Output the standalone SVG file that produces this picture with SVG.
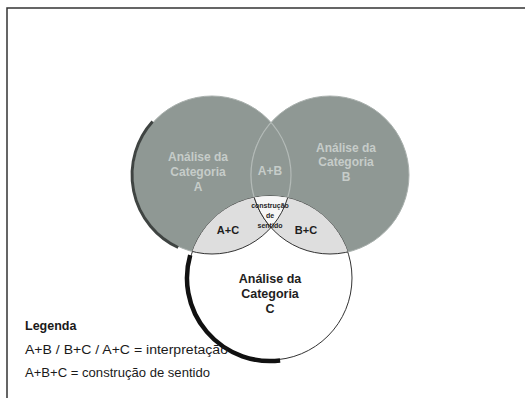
<svg xmlns="http://www.w3.org/2000/svg" width="525" height="398" viewBox="0 0 525 398">
<style>
  .lbl { font-family: "Liberation Sans", Arial, sans-serif; font-weight: bold; text-anchor: middle; }
  .light { fill: #c6ccc9; font-size: 12px; }
  .dark { fill: #1e1e1e; font-size: 12.5px; }
  .leg { font-family: "Liberation Sans", Arial, sans-serif; fill: #1a1a1a; font-size: 12.5px; }
</style>
<defs>
  <clipPath id="clipA"><circle cx="212" cy="175" r="79"/></clipPath>
  <clipPath id="clipB"><circle cx="330" cy="175" r="79"/></clipPath>
  <clipPath id="clipC"><circle cx="270" cy="278" r="82"/></clipPath>
</defs>
<rect x="0" y="0" width="525" height="398" fill="#ffffff"/>
<!-- frame -->
<path d="M7 398 V8 H525" fill="none" stroke="#333" stroke-width="1.5"/>

<g id="circleA">
  <circle cx="212" cy="175" r="79" fill="#8f9894" stroke="#a9b0ad" stroke-width="1"/>
  <path d="M152.6 121.5 A80 80 0 0 0 178.2 247.5" fill="none" stroke="#3f4442" stroke-width="3"/>
  <text class="lbl light" x="198" y="161">Análise da</text>
  <text class="lbl light" x="198" y="176">Categoria</text>
  <text class="lbl light" x="198" y="191">A</text>
</g>
<g id="circleB">
  <circle cx="330" cy="175" r="79" fill="#8f9894" stroke="#a9b0ad" stroke-width="1"/>
  <text class="lbl light" x="346" y="152">Análise da</text>
  <text class="lbl light" x="346" y="166">Categoria</text>
  <text class="lbl light" x="346" y="181">B</text>
</g>
<g id="lensAB">
  <g clip-path="url(#clipA)">
    <circle cx="330" cy="175" r="79" fill="#8f9894" stroke="#b3bab7" stroke-width="1.2"/>
  </g>
  <g clip-path="url(#clipB)">
    <circle cx="212" cy="175" r="79" fill="none" stroke="#b3bab7" stroke-width="1.2"/>
  </g>
  <text class="lbl light" x="270" y="175">A+B</text>
</g>
<g id="circleC">
  <circle cx="270" cy="278" r="82" fill="#ffffff" stroke="#333" stroke-width="1"/>
  <path d="M190.2 255.1 A83 83 0 0 0 280.1 360.4" fill="none" stroke="#111" stroke-width="4.5"/>
  <text class="lbl dark" x="270" y="283">Análise da</text>
  <text class="lbl dark" x="270" y="298">Categoria</text>
  <text class="lbl dark" x="270" y="313">C</text>
</g>
<g id="lensAC">
  <g clip-path="url(#clipC)">
    <circle cx="212" cy="175" r="79" fill="#dedede" stroke="#333" stroke-width="1"/>
  </g>
  <text class="lbl dark" x="228" y="234" style="font-size:11px">A+C</text>
</g>
<g id="lensBC">
  <g clip-path="url(#clipC)">
    <circle cx="330" cy="175" r="79" fill="#dedede" stroke="#333" stroke-width="1"/>
  </g>
  <text class="lbl dark" x="306" y="234" style="font-size:11px">B+C</text>
</g>
<g id="centerABC">
  <g clip-path="url(#clipC)">
    <g clip-path="url(#clipA)">
      <circle cx="330" cy="175" r="79" fill="#f6f6f6" stroke="#333" stroke-width="1"/>
    </g>
  </g>
  <g clip-path="url(#clipC)">
    <g clip-path="url(#clipB)">
      <circle cx="212" cy="175" r="79" fill="none" stroke="#333" stroke-width="1"/>
    </g>
  </g>
  <text class="lbl dark" x="270" y="208" style="font-size:7px">construção</text>
  <text class="lbl dark" x="270" y="218" style="font-size:7px">de</text>
  <text class="lbl dark" x="270" y="228" style="font-size:7px">sentido</text>
</g>
<g id="legend">
  <text class="leg" x="25" y="330" font-weight="bold">Legenda</text>
  <text class="leg" x="25" y="354" textLength="203" lengthAdjust="spacingAndGlyphs">A+B / B+C / A+C = interpretação</text>
  <text class="leg" x="25" y="377" textLength="185" lengthAdjust="spacingAndGlyphs">A+B+C = construção de sentido</text>
</g>
</svg>
